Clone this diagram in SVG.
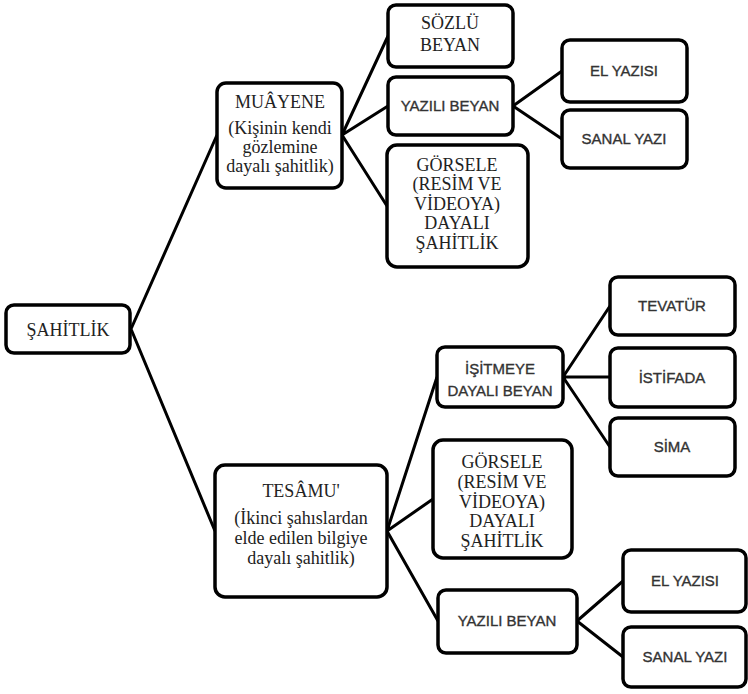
<svg xmlns="http://www.w3.org/2000/svg" width="748" height="694" viewBox="0 0 748 694">
<style>
.b{fill:#fff;stroke:#000;stroke-width:3.5}
.s{font-family:"Liberation Serif","Times New Roman",serif;font-size:18px;fill:#222;text-anchor:middle}
.c{font-family:"Liberation Sans",Arial,sans-serif;font-size:15px;fill:#333;stroke:#333;stroke-width:0.35;text-anchor:middle}
.l{stroke:#000;stroke-width:3;fill:none}
</style>
<rect width="748" height="694" fill="#fff"/>
<g id="connectors">
<path class="l" d="M131 329L217 135M131 329L215 531"/>
<path class="l" d="M342 135L388 36M342 135L388 106M342 135L387 206"/>
<path class="l" d="M513 106L562 71M513 106L562 139"/>
<path class="l" d="M387 531L437 377M387 531L433 499M387 531L438 621"/>
<path class="l" d="M563 377L610 306M563 377L610 377M563 377L610 447"/>
<path class="l" d="M577 621L623 581M577 621L623 657"/>
</g>
<g id="sahitlik"><rect class="b" x="6" y="305" width="124" height="48" rx="8"/><text class="s" x="68" y="336">ŞAHİTLİK</text></g>
<g id="muayene"><rect class="b" x="217" y="83" width="125" height="105" rx="9"/>
<text class="s"><tspan x="280" y="108">MUÂYENE</tspan><tspan x="280" y="134">(Kişinin kendi</tspan><tspan x="280" y="153">gözlemine</tspan><tspan x="280" y="172">dayalı şahitlik)</tspan></text></g>
<g id="sozlu"><rect class="b" x="388" y="5" width="125" height="62" rx="8"/>
<text class="s"><tspan x="450" y="29">SÖZLÜ</tspan><tspan x="450" y="51">BEYAN</tspan></text></g>
<g id="yazili1"><rect class="b" x="388" y="77" width="125" height="58" rx="8"/><text class="c" x="450" y="111">YAZILI BEYAN</text></g>
<g id="gorsel1"><rect class="b" x="387" y="145" width="141" height="122" rx="10"/>
<text class="s"><tspan x="457" y="171">GÖRSELE</tspan><tspan x="457" y="190">(RESİM VE</tspan><tspan x="457" y="210">VİDEOYA)</tspan><tspan x="457" y="229">DAYALI</tspan><tspan x="457" y="249">ŞAHİTLİK</tspan></text></g>
<g id="elyazisi1"><rect class="b" x="562" y="40" width="125" height="62" rx="8"/><text class="c" x="624" y="76">EL YAZISI</text></g>
<g id="sanal1"><rect class="b" x="562" y="110" width="125" height="58" rx="8"/><text class="c" x="624" y="144">SANAL YAZI</text></g>
<g id="tesamu"><rect class="b" x="215" y="465" width="172" height="132" rx="10"/>
<text class="s"><tspan x="301" y="497">TESÂMU'</tspan><tspan x="301" y="524">(İkinci şahıslardan</tspan><tspan x="301" y="544">elde edilen bilgiye</tspan><tspan x="301" y="564">dayalı şahitlik)</tspan></text></g>
<g id="isitmeye"><rect class="b" x="437" y="347" width="126" height="60" rx="8"/>
<text class="c"><tspan x="500" y="374">İŞİTMEYE</tspan><tspan x="500" y="396">DAYALI BEYAN</tspan></text></g>
<g id="gorsel2"><rect class="b" x="433" y="440" width="139" height="118" rx="10"/>
<text class="s"><tspan x="502" y="468">GÖRSELE</tspan><tspan x="502" y="488">(RESİM VE</tspan><tspan x="502" y="508">VİDEOYA)</tspan><tspan x="502" y="527">DAYALI</tspan><tspan x="502" y="547">ŞAHİTLİK</tspan></text></g>
<g id="yazili2"><rect class="b" x="438" y="590" width="139" height="63" rx="8"/><text class="c" x="507" y="626">YAZILI BEYAN</text></g>
<g id="tevatur"><rect class="b" x="610" y="277" width="125" height="58" rx="8"/><text class="c" x="672" y="311">TEVATÜR</text></g>
<g id="istifade"><rect class="b" x="610" y="348" width="125" height="59" rx="8"/><text class="c" x="672" y="383">İSTİFADA</text></g>
<g id="sima"><rect class="b" x="610" y="418" width="125" height="58" rx="8"/><text class="c" x="672" y="452">SİMA</text></g>
<g id="elyazisi2"><rect class="b" x="623" y="550" width="123" height="62" rx="8"/><text class="c" x="685" y="586">EL YAZISI</text></g>
<g id="sanal2"><rect class="b" x="623" y="627" width="123" height="60" rx="8"/><text class="c" x="685" y="662">SANAL YAZI</text></g>
</svg>
